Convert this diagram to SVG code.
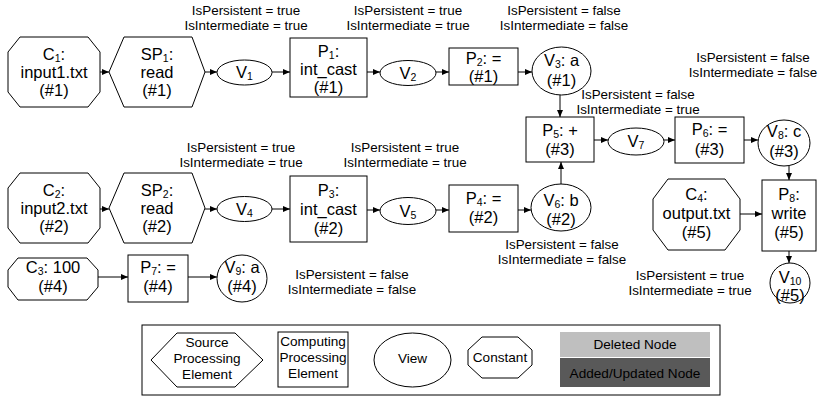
<svg xmlns="http://www.w3.org/2000/svg" width="820" height="397" viewBox="0 0 820 397">
  <style>
    .n { fill: #fff; stroke: #000; stroke-width: 1; }
    .t { font-family: "Liberation Sans", Arial, sans-serif; font-size: 16.5px; text-anchor: middle; fill: #000; }
    .a { font-family: "Liberation Sans", Arial, sans-serif; font-size: 13.4px; text-anchor: middle; fill: #000; }
    .lg { font-family: "Liberation Sans", Arial, sans-serif; font-size: 13.6px; text-anchor: middle; fill: #000; }
    .s { font-size: 10.5px; }
    .e { stroke: #000; stroke-width: 1; fill: none; marker-end: url(#ah); }
  </style>
  <defs>
    <marker id="ah" markerUnits="userSpaceOnUse" markerWidth="7" markerHeight="6" refX="7" refY="3" orient="auto">
      <path d="M0,0 L7,3 L0,6 z" fill="#000"/>
    </marker>
  </defs>
  <rect width="820" height="397" fill="#fff"/>

  <!-- connectors -->
  <g id="edges">
    <path class="e" d="M100,72 H109"/>
    <path class="e" d="M205,72 H217"/>
    <path class="e" d="M272,72 H290"/>
    <path class="e" d="M367,72 H380"/>
    <path class="e" d="M436,72 H449"/>
    <path class="e" d="M518,72 H532"/>
    <path class="e" d="M560,95 V117"/>
    <path class="e" d="M561,184 V162"/>
    <path class="e" d="M594,140 H608"/>
    <path class="e" d="M664,140 H675"/>
    <path class="e" d="M744,140 H758"/>
    <path class="e" d="M789,166 V180"/>
    <path class="e" d="M740,214 H762"/>
    <path class="e" d="M789,251 V263"/>
    <path class="e" d="M100,209 H109"/>
    <path class="e" d="M205,209 H217"/>
    <path class="e" d="M272,209 H290"/>
    <path class="e" d="M367,210 H380"/>
    <path class="e" d="M436,210 H449"/>
    <path class="e" d="M518,210 H531"/>
    <path class="e" d="M98,277 H128"/>
    <path class="e" d="M188,277 H217"/>
  </g>

  <!-- row 1 -->
  <g id="C1">
    <polygon class="n" points="20,37 88,37 100,52 100,92 88,107 20,107 8,92 8,52"/>
    <text class="t" x="54" y="60">C<tspan class="s" dy="2">1</tspan><tspan dy="-2">:</tspan></text>
    <text class="t" x="54" y="78">input1.txt</text>
    <text class="t" x="54" y="96">(#1)</text>
  </g>
  <g id="SP1">
    <polygon class="n" points="109,72 124,37 192,37 205,72 192,107 124,107"/>
    <text class="t" x="157" y="60">SP<tspan class="s" dy="2">1</tspan><tspan dy="-2">:</tspan></text>
    <text class="t" x="157" y="78">read</text>
    <text class="t" x="157" y="96">(#1)</text>
  </g>
  <g id="V1">
    <ellipse class="n" cx="244.5" cy="72.5" rx="27.5" ry="12.5"/>
    <text class="t" x="244.5" y="78">V<tspan class="s" dy="2">1</tspan></text>
  </g>
  <g id="P1">
    <rect class="n" x="290" y="38" width="77" height="59"/>
    <text class="t" x="328.5" y="57">P<tspan class="s" dy="2">1</tspan><tspan dy="-2">:</tspan></text>
    <text class="t" x="328.5" y="75">int_cast</text>
    <text class="t" x="328.5" y="93">(#1)</text>
  </g>
  <g id="V2">
    <ellipse class="n" cx="408" cy="73" rx="28" ry="12.5"/>
    <text class="t" x="408" y="79">V<tspan class="s" dy="2">2</tspan></text>
  </g>
  <g id="P2">
    <rect class="n" x="449" y="48" width="69" height="37"/>
    <text class="t" x="483.5" y="64">P<tspan class="s" dy="2">2</tspan><tspan dy="-2">: =</tspan></text>
    <text class="t" x="483.5" y="82">(#1)</text>
  </g>
  <g id="V3">
    <ellipse class="n" cx="561.5" cy="71" rx="29.5" ry="24"/>
    <text class="t" x="561.5" y="66">V<tspan class="s" dy="2">3</tspan><tspan dy="-2">: a</tspan></text>
    <text class="t" x="561.5" y="86">(#1)</text>
  </g>
  <g id="P5">
    <rect class="n" x="526" y="117" width="68" height="45"/>
    <text class="t" x="560" y="136">P<tspan class="s" dy="2">5</tspan><tspan dy="-2">: +</tspan></text>
    <text class="t" x="560" y="155">(#3)</text>
  </g>
  <g id="V7">
    <ellipse class="n" cx="636" cy="141.5" rx="28" ry="13.5"/>
    <text class="t" x="636" y="147">V<tspan class="s" dy="2">7</tspan></text>
  </g>
  <g id="P6">
    <rect class="n" x="675" y="117" width="69" height="46"/>
    <text class="t" x="709.5" y="135">P<tspan class="s" dy="2">6</tspan><tspan dy="-2">: =</tspan></text>
    <text class="t" x="709.5" y="155">(#3)</text>
  </g>
  <g id="V8">
    <ellipse class="n" cx="784" cy="143" rx="26" ry="23"/>
    <text class="t" x="784" y="137">V<tspan class="s" dy="2">8</tspan><tspan dy="-2">: c</tspan></text>
    <text class="t" x="784" y="157">(#3)</text>
  </g>

  <!-- row 2 -->
  <g id="C2">
    <polygon class="n" points="20,173 88,173 100,188 100,228 88,243 20,243 8,228 8,188"/>
    <text class="t" x="54" y="196">C<tspan class="s" dy="2">2</tspan><tspan dy="-2">:</tspan></text>
    <text class="t" x="54" y="214">input2.txt</text>
    <text class="t" x="54" y="232">(#2)</text>
  </g>
  <g id="SP2">
    <polygon class="n" points="109,208 124,173 192,173 205,208 192,243 124,243"/>
    <text class="t" x="157" y="196">SP<tspan class="s" dy="2">2</tspan><tspan dy="-2">:</tspan></text>
    <text class="t" x="157" y="214">read</text>
    <text class="t" x="157" y="232">(#2)</text>
  </g>
  <g id="V4">
    <ellipse class="n" cx="244.5" cy="209" rx="27.5" ry="12.5"/>
    <text class="t" x="244.5" y="215">V<tspan class="s" dy="2">4</tspan></text>
  </g>
  <g id="P3">
    <rect class="n" x="290" y="176" width="77" height="66"/>
    <text class="t" x="328.5" y="196">P<tspan class="s" dy="2">3</tspan><tspan dy="-2">:</tspan></text>
    <text class="t" x="328.5" y="215">int_cast</text>
    <text class="t" x="328.5" y="234">(#2)</text>
  </g>
  <g id="V5">
    <ellipse class="n" cx="408" cy="211" rx="28" ry="13.5"/>
    <text class="t" x="408" y="217">V<tspan class="s" dy="2">5</tspan></text>
  </g>
  <g id="P4">
    <rect class="n" x="449" y="185" width="69" height="47"/>
    <text class="t" x="483.5" y="204">P<tspan class="s" dy="2">4</tspan><tspan dy="-2">: =</tspan></text>
    <text class="t" x="483.5" y="223">(#2)</text>
  </g>
  <g id="V6">
    <ellipse class="n" cx="561" cy="207.5" rx="30" ry="23.5"/>
    <text class="t" x="561" y="206">V<tspan class="s" dy="2">6</tspan><tspan dy="-2">: b</tspan></text>
    <text class="t" x="561" y="225">(#2)</text>
  </g>
  <g id="C4">
    <polygon class="n" points="668,179 725,179 740,199 740,230 725,250 668,250 653,230 653,199"/>
    <text class="t" x="696.5" y="200">C<tspan class="s" dy="2">4</tspan><tspan dy="-2">:</tspan></text>
    <text class="t" x="696.5" y="219">output.txt</text>
    <text class="t" x="696.5" y="238">(#5)</text>
  </g>
  <g id="P8">
    <rect class="n" x="762" y="180" width="54" height="71"/>
    <text class="t" x="789" y="200">P<tspan class="s" dy="2">8</tspan><tspan dy="-2">:</tspan></text>
    <text class="t" x="789" y="219">write</text>
    <text class="t" x="789" y="238">(#5)</text>
  </g>
  <g id="V10">
    <ellipse class="n" cx="790" cy="283" rx="20" ry="20"/>
    <text class="t" x="790" y="283">V<tspan class="s" dy="2">10</tspan></text>
    <text class="t" x="790" y="301">(#5)</text>
  </g>

  <!-- row 3 -->
  <g id="C3">
    <polygon class="n" points="18,258 87,258 98,270 98,287 87,300 18,300 8,287 8,270"/>
    <text class="t" x="53" y="273">C<tspan class="s" dy="2">3</tspan><tspan dy="-2">: 100</tspan></text>
    <text class="t" x="53" y="292">(#4)</text>
  </g>
  <g id="P7">
    <rect class="n" x="128" y="255" width="60" height="47"/>
    <text class="t" x="158" y="273">P<tspan class="s" dy="2">7</tspan><tspan dy="-2">: =</tspan></text>
    <text class="t" x="158" y="292">(#4)</text>
  </g>
  <g id="V9">
    <ellipse class="n" cx="242" cy="278.5" rx="25" ry="23.5"/>
    <text class="t" x="242" y="273">V<tspan class="s" dy="2">9</tspan><tspan dy="-2">: a</tspan></text>
    <text class="t" x="242" y="292">(#4)</text>
  </g>

  <!-- view flags -->
  <g id="flags">
    <text class="a" x="246" y="15">IsPersistent = true</text>
    <text class="a" x="246" y="30">IsIntermediate = true</text>
    <text class="a" x="408" y="15">IsPersistent = true</text>
    <text class="a" x="408" y="30">IsIntermediate = true</text>
    <text class="a" x="564" y="15">IsPersistent = false</text>
    <text class="a" x="564" y="30">IsIntermediate = false</text>
    <text class="a" x="753" y="62">IsPersistent = false</text>
    <text class="a" x="753" y="77">IsIntermediate = false</text>
    <text class="a" x="638" y="99">IsPersistent = false</text>
    <text class="a" x="638" y="114">IsIntermediate = true</text>
    <text class="a" x="241" y="152">IsPersistent = true</text>
    <text class="a" x="241" y="167">IsIntermediate = true</text>
    <text class="a" x="405" y="152">IsPersistent = true</text>
    <text class="a" x="405" y="167">IsIntermediate = true</text>
    <text class="a" x="562" y="249">IsPersistent = false</text>
    <text class="a" x="562" y="264">IsIntermediate = false</text>
    <text class="a" x="352" y="279">IsPersistent = false</text>
    <text class="a" x="352" y="294">IsIntermediate = false</text>
    <text class="a" x="690" y="280">IsPersistent = true</text>
    <text class="a" x="690" y="295">IsIntermediate = true</text>
  </g>

  <!-- legend -->
  <g id="legend">
    <rect x="142" y="325" width="578" height="70" fill="#fff" stroke="#000"/>
    <polygon class="n" points="151,360 177,333 235,333 263,360 235,387 177,387"/>
    <text class="lg" x="207" y="347">Source</text>
    <text class="lg" x="207" y="363">Processing</text>
    <text class="lg" x="207" y="379">Element</text>
    <rect class="n" x="278" y="332" width="70" height="55"/>
    <text class="lg" x="313" y="346">Computing</text>
    <text class="lg" x="313" y="362">Processing</text>
    <text class="lg" x="313" y="378">Element</text>
    <ellipse class="n" cx="412.5" cy="360" rx="38.5" ry="27"/>
    <text class="lg" x="412.5" y="363">View</text>
    <polygon class="n" points="482,337 518,337 532,350 532,365 518,378 482,378 468,365 468,350"/>
    <text class="lg" x="500" y="362">Constant</text>
    <rect x="560" y="332" width="150" height="25" fill="#bfbfbf"/>
    <text class="lg" x="635" y="349">Deleted Node</text>
    <rect x="560" y="358" width="150" height="29" fill="#595959"/>
    <text class="lg" x="635" y="378" fill="#fff">Added/Updated Node</text>
  </g>
</svg>
